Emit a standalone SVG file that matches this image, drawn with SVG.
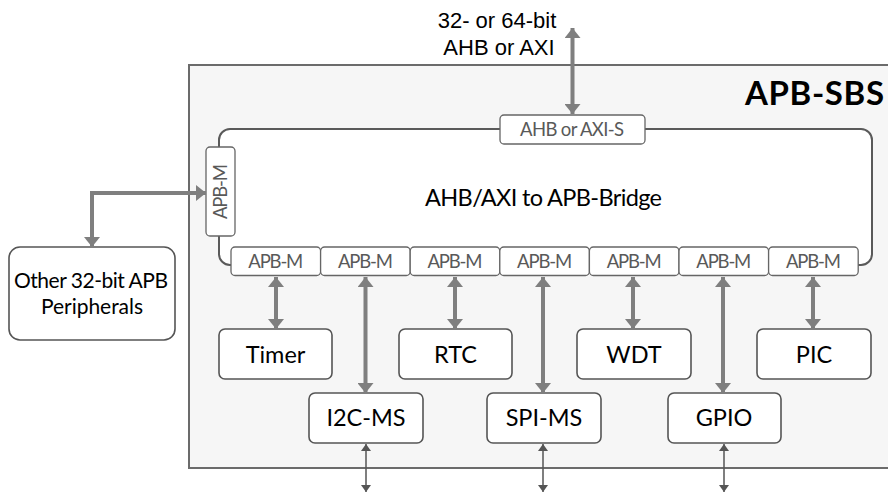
<svg xmlns="http://www.w3.org/2000/svg" width="888" height="495" viewBox="0 0 888 495">
<style>
.box{fill:#ffffff;stroke:#555555;stroke-width:1.6}
.port{fill:#ffffff;stroke:#666666;stroke-width:1.3}
.lbl{font-family:Lato,"Open Sans",sans-serif;fill:#000;text-anchor:middle}
.plbl{font-family:Lato,"Open Sans",sans-serif;fill:#595959;font-size:18.5px;text-anchor:middle}
.node{font-size:23.5px}
.big{stroke:#7f7f7f;stroke-width:4;fill:none;marker-start:url(#ah);marker-end:url(#ah)}
.thin{stroke:#555555;stroke-width:1.5;fill:none;marker-start:url(#as);marker-end:url(#as)}
</style>
<defs>
<marker id="ah" viewBox="0 0 10 16" refX="10" refY="8" markerWidth="10" markerHeight="16" markerUnits="userSpaceOnUse" orient="auto-start-reverse">
<path d="M0,0 L10,8 L0,16 Z" fill="#7f7f7f"/>
</marker>
<marker id="as" viewBox="0 0 7 10" refX="7" refY="5" markerWidth="7" markerHeight="10" markerUnits="userSpaceOnUse" orient="auto-start-reverse">
<path d="M0,0 L7,5 L0,10 Z" fill="#555555"/>
</marker>
</defs>

<g id="apb-sbs">
<rect x="189" y="65" width="710" height="403" fill="#f6f6f6" stroke="#6b6b6b" stroke-width="2"/>
<text class="lbl" x="814.5" y="105" font-size="33" font-weight="bold" textLength="139">APB-SBS</text>
</g>

<g id="bridge">
<rect x="219" y="129" width="653" height="136" rx="11" fill="#ffffff" stroke="#5a5a5a" stroke-width="2"/>
<text class="lbl" x="543.5" y="206" font-size="23.5" textLength="237">AHB/AXI to APB-Bridge</text>
</g>

<g id="port-ahb">
<rect class="port" x="500" y="115" width="145" height="29" rx="4"/>
<text class="plbl" x="572" y="136" textLength="104">AHB or AXI-S</text>
</g>

<g id="port-left">
<rect class="port" x="206" y="147" width="29" height="89" rx="4"/>
<text class="plbl" transform="translate(226.5,191.5) rotate(-90)" x="0" y="0" textLength="55">APB-M</text>
</g>

<g id="ports-bottom">
<rect class="port" x="231" y="247" width="89.6" height="28.5" rx="4"/>
<rect class="port" x="320.6" y="247" width="89.6" height="28.5" rx="4"/>
<rect class="port" x="410.2" y="247" width="89.6" height="28.5" rx="4"/>
<rect class="port" x="499.8" y="247" width="89.6" height="28.5" rx="4"/>
<rect class="port" x="589.4" y="247" width="89.6" height="28.5" rx="4"/>
<rect class="port" x="679" y="247" width="89.6" height="28.5" rx="4"/>
<rect class="port" x="768.6" y="247" width="89.6" height="28.5" rx="4"/>
<text class="plbl" x="275.8" y="268" textLength="55">APB-M</text>
<text class="plbl" x="365.4" y="268" textLength="55">APB-M</text>
<text class="plbl" x="455" y="268" textLength="55">APB-M</text>
<text class="plbl" x="544.6" y="268" textLength="55">APB-M</text>
<text class="plbl" x="634.2" y="268" textLength="55">APB-M</text>
<text class="plbl" x="723.8" y="268" textLength="55">APB-M</text>
<text class="plbl" x="813.4" y="268" textLength="55">APB-M</text>
</g>

<g id="bus-label">
<text x="497" y="28" font-family="'Liberation Sans',Arial,sans-serif" font-size="22" text-anchor="middle">32- or 64-bit</text>
<text x="499" y="55" font-family="'Liberation Sans',Arial,sans-serif" font-size="22" text-anchor="middle">AHB or AXI</text>
</g>

<g id="other">
<rect class="box" x="9" y="247" width="166" height="93" rx="11"/>
<text class="lbl" x="91" y="288" font-size="21" textLength="154">Other 32-bit APB</text>
<text class="lbl" x="92" y="314" font-size="21" textLength="102">Peripherals</text>
</g>

<g id="timer"><rect class="box" x="219" y="329" width="113" height="50" rx="6"/><text class="lbl node" x="275.5" y="363">Timer</text></g>
<g id="rtc"><rect class="box" x="399" y="329" width="113" height="50" rx="6"/><text class="lbl node" x="455.5" y="363">RTC</text></g>
<g id="wdt"><rect class="box" x="577" y="329" width="114" height="50" rx="6"/><text class="lbl node" x="634" y="363">WDT</text></g>
<g id="pic"><rect class="box" x="757" y="329" width="114" height="50" rx="6"/><text class="lbl node" x="814" y="363">PIC</text></g>
<g id="i2c"><rect class="box" x="309" y="393" width="114" height="50" rx="6"/><text class="lbl node" x="366" y="426">I2C-MS</text></g>
<g id="spi"><rect class="box" x="487" y="393" width="114" height="50" rx="6"/><text class="lbl node" x="544" y="426">SPI-MS</text></g>
<g id="gpio"><rect class="box" x="668" y="393" width="113" height="50" rx="6"/><text class="lbl node" x="724" y="426">GPIO</text></g>

<g id="connectors">
<line class="big" x1="572.5" y1="28" x2="572.5" y2="114"/>
<polyline class="big" points="92,247 92,193 206,193"/>
<line class="big" x1="276" y1="277" x2="276" y2="329"/>
<line class="big" x1="455" y1="277" x2="455" y2="329"/>
<line class="big" x1="633" y1="277" x2="633" y2="329"/>
<line class="big" x1="813" y1="277" x2="813" y2="329"/>
<line class="big" x1="365.5" y1="277" x2="365.5" y2="393"/>
<line class="big" x1="543" y1="277" x2="543" y2="393"/>
<line class="big" x1="723" y1="277" x2="723" y2="393"/>
<line class="thin" x1="366" y1="444" x2="366" y2="492"/>
<line class="thin" x1="543" y1="444" x2="543" y2="492"/>
<line class="thin" x1="724" y1="444" x2="724" y2="492"/>
</g>
</svg>
